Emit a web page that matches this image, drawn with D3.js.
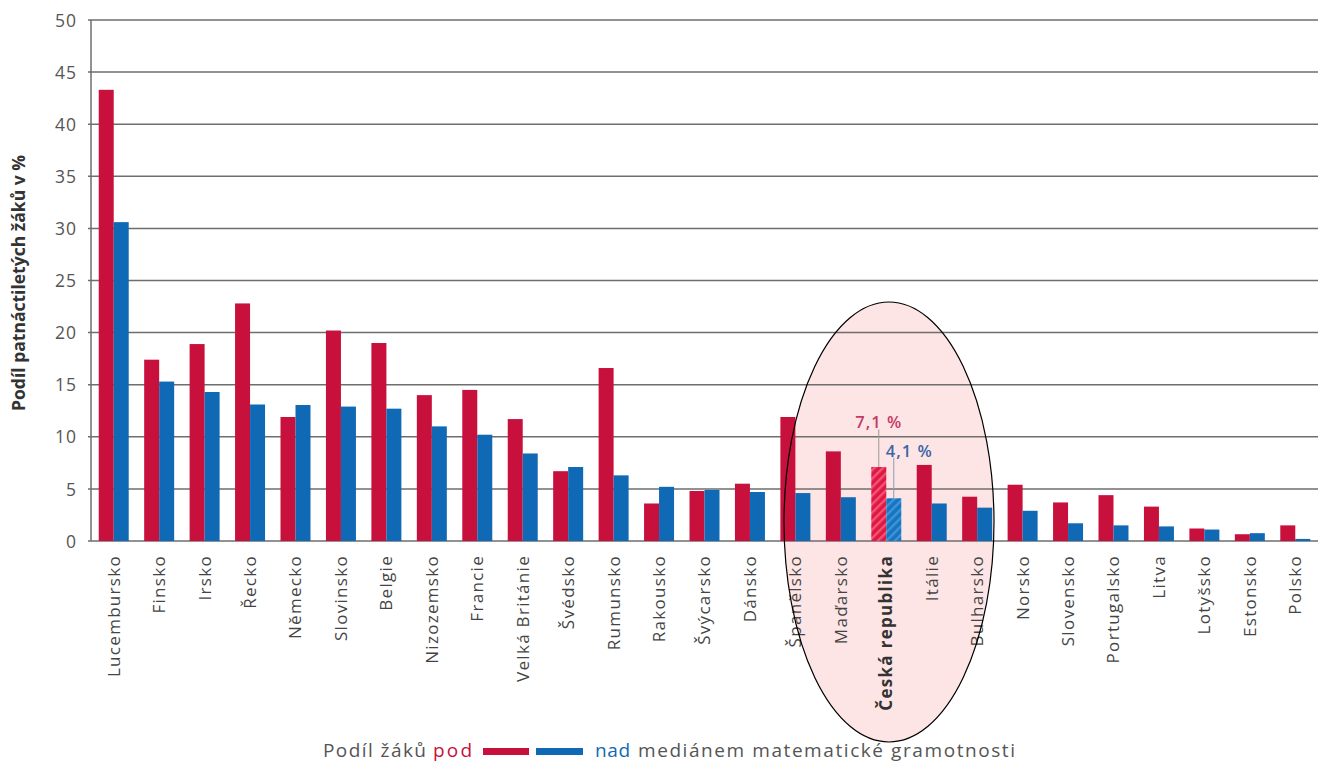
<!DOCTYPE html>
<html lang="cs">
<head>
<meta charset="utf-8">
<script src="https://cdn.jsdelivr.net/npm/d3@7"></script>
<style>
  html, body { margin: 0; padding: 0; background: #fff; }
  svg { display: block; font-family: "Open Sans", "Noto Sans", sans-serif; }
</style>
</head>
<body>
<svg id="chart" width="1318" height="765"></svg>
<script>
const countries = ["Lucembursko","Finsko","Irsko","Řecko","Německo","Slovinsko","Belgie","Nizozemsko","Francie","Velká Británie","Švédsko","Rumunsko","Rakousko","Švýcarsko","Dánsko","Španělsko","Maďarsko","Česká republika","Itálie","Bulharsko","Norsko","Slovensko","Portugalsko","Litva","Lotyšsko","Estonsko","Polsko"];
const podValues = [43.3,17.4,18.9,22.8,11.9,20.2,19.0,14.0,14.5,11.7,6.7,16.6,3.6,4.8,5.5,11.9,8.6,7.1,7.3,4.25,5.4,3.7,4.4,3.3,1.2,0.65,1.5];
const nadValues = [30.6,15.3,14.3,13.1,13.05,12.9,12.7,11.0,10.2,8.4,7.1,6.3,5.2,4.9,4.7,4.6,4.2,4.1,3.6,3.2,2.9,1.7,1.5,1.4,1.1,0.75,0.2];
const yTicks = [0,5,10,15,20,25,30,35,40,45,50];
const highlight = "Česká republika";
const podLabel = "7,1 %";
const nadLabel = "4,1 %";
const yTitle = "Podíl patnáctiletých žáků v %";
const legendParts = ["Podíl žáků", "pod", "nad", "mediánem matematické gramotnosti"];

const RED = "#c8103c", BLUE = "#0f69b4", GRID = "#6e6e6e", TXT = "#555";

const svg = d3.select("#chart");
const m = {left: 91, right: 1318, top: 20, bottom: 541};

const x = d3.scaleBand().domain(countries).range([m.left, m.right]).paddingInner(0.34).paddingOuter(0.17);
const y = d3.scaleLinear().domain([0, 50]).range([m.bottom, m.top]);
const bw = x.bandwidth() / 2;

// patterns for highlighted bars
const defs = svg.append("defs");
function stripes(id, base, light) {
  const p = defs.append("pattern").attr("id", id).attr("patternUnits", "userSpaceOnUse")
    .attr("width", 6).attr("height", 6).attr("patternTransform", "rotate(45)");
  p.append("rect").attr("width", 6).attr("height", 6).attr("fill", base);
  p.append("rect").attr("width", 2.4).attr("height", 6).attr("fill", light);
}
stripes("hatchRed", "#e0183f", "#f0557c");
stripes("hatchBlue", "#1674c0", "#3f94d6");

// highlight ellipse fill (behind)
const ell = {cx: 889, cy: 522, rx: 105, ry: 220};
svg.append("ellipse").attr("cx", ell.cx).attr("cy", ell.cy).attr("rx", ell.rx).attr("ry", ell.ry)
  .attr("fill", "#fde5e5");

// gridlines
svg.append("g").selectAll("line").data(yTicks).join("line")
  .attr("x1", m.left - 3).attr("x2", m.right)
  .attr("y1", d => y(d)).attr("y2", d => y(d))
  .attr("stroke", GRID).attr("stroke-width", 1.5);
svg.append("line").attr("x1", m.left).attr("x2", m.left).attr("y1", y(50)).attr("y2", y(0))
  .attr("stroke", GRID).attr("stroke-width", 1.5);

// y tick labels via axis
const yAxis = svg.append("g").attr("transform", `translate(${m.left - 14},0)`)
  .call(d3.axisLeft(y).tickValues(yTicks).tickSize(0).tickFormat(d3.format("d")));
yAxis.select(".domain").remove();
yAxis.selectAll("text").attr("fill", TXT).attr("font-size", 17.5).attr("letter-spacing", 1)
  .attr("font-family", "'Open Sans', sans-serif").attr("x", 0).attr("dy", "0.35em");

// y title
svg.append("text").attr("transform", `translate(25,${283}) rotate(-90)`)
  .attr("text-anchor", "middle").attr("font-size", 17.5).attr("font-weight", 700)
  .attr("fill", "#333").text(yTitle);

// bars
const groups = svg.append("g").selectAll("g").data(countries).join("g");
groups.append("rect")
  .attr("x", d => x(d)).attr("width", bw)
  .attr("y", (d, i) => y(podValues[i])).attr("height", (d, i) => y(0) - y(podValues[i]))
  .attr("fill", d => d === highlight ? "url(#hatchRed)" : RED);
groups.append("rect")
  .attr("x", d => x(d) + bw).attr("width", bw)
  .attr("y", (d, i) => y(nadValues[i])).attr("height", (d, i) => y(0) - y(nadValues[i]))
  .attr("fill", d => d === highlight ? "url(#hatchBlue)" : BLUE);

// x labels
svg.append("g").selectAll("text").data(countries).join("text")
  .attr("transform", d => `translate(${x(d) + x.bandwidth() / 2},555) rotate(-90)`)
  .attr("text-anchor", "end").attr("dy", "0.35em")
  .attr("font-size", 17).attr("letter-spacing", 1.3)
  .attr("font-weight", d => d === highlight ? 700 : 400)
  .attr("fill", d => d === highlight ? "#333" : "#444")
  .text(d => d);

// annotations for highlight
const hi = countries.indexOf(highlight);
const rxc = x(highlight) + bw / 2, bxc = x(highlight) + bw * 1.5;
svg.append("line").attr("x1", rxc).attr("x2", rxc).attr("y1", y(10.7)).attr("y2", y(podValues[hi]))
  .attr("stroke", "#999").attr("stroke-width", 1);
svg.append("line").attr("x1", bxc).attr("x2", bxc).attr("y1", y(8)).attr("y2", y(nadValues[hi]))
  .attr("stroke", "#8a9ab5").attr("stroke-width", 1);
svg.append("text").attr("x", rxc).attr("y", y(10.8)).attr("text-anchor", "middle")
  .attr("font-size", 16.5).attr("font-weight", 600).attr("letter-spacing", 1).attr("fill", "#c43a63").text(podLabel);
svg.append("text").attr("x", bxc - 8).attr("y", y(8.1)).attr("text-anchor", "start")
  .attr("font-size", 16.5).attr("font-weight", 600).attr("letter-spacing", 1).attr("fill", "#3a66a6").text(nadLabel);

// ellipse stroke on top
svg.append("ellipse").attr("cx", ell.cx).attr("cy", ell.cy).attr("rx", ell.rx).attr("ry", ell.ry)
  .attr("fill", "none").attr("stroke", "#000").attr("stroke-width", 1.2);

// legend
const lg = svg.append("g").attr("font-size", 19);
const base = 757;
lg.append("text").attr("x", 323).attr("y", base).attr("fill", TXT).attr("textLength", 103).attr("lengthAdjust", "spacing").text(legendParts[0]);
lg.append("text").attr("x", 433).attr("y", base).attr("fill", RED).attr("textLength", 39).attr("lengthAdjust", "spacing").text(legendParts[1]);
lg.append("rect").attr("x", 483).attr("y", 748).attr("width", 46).attr("height", 7).attr("fill", RED);
lg.append("rect").attr("x", 536).attr("y", 748).attr("width", 47).attr("height", 7).attr("fill", BLUE);
lg.append("text").attr("x", 595).attr("y", base).attr("fill", BLUE).attr("textLength", 35).attr("lengthAdjust", "spacing").text(legendParts[2]);
lg.append("text").attr("x", 638).attr("y", base).attr("fill", TXT).attr("textLength", 377).attr("lengthAdjust", "spacing").text(legendParts[3]);
</script>
</body>
</html>
